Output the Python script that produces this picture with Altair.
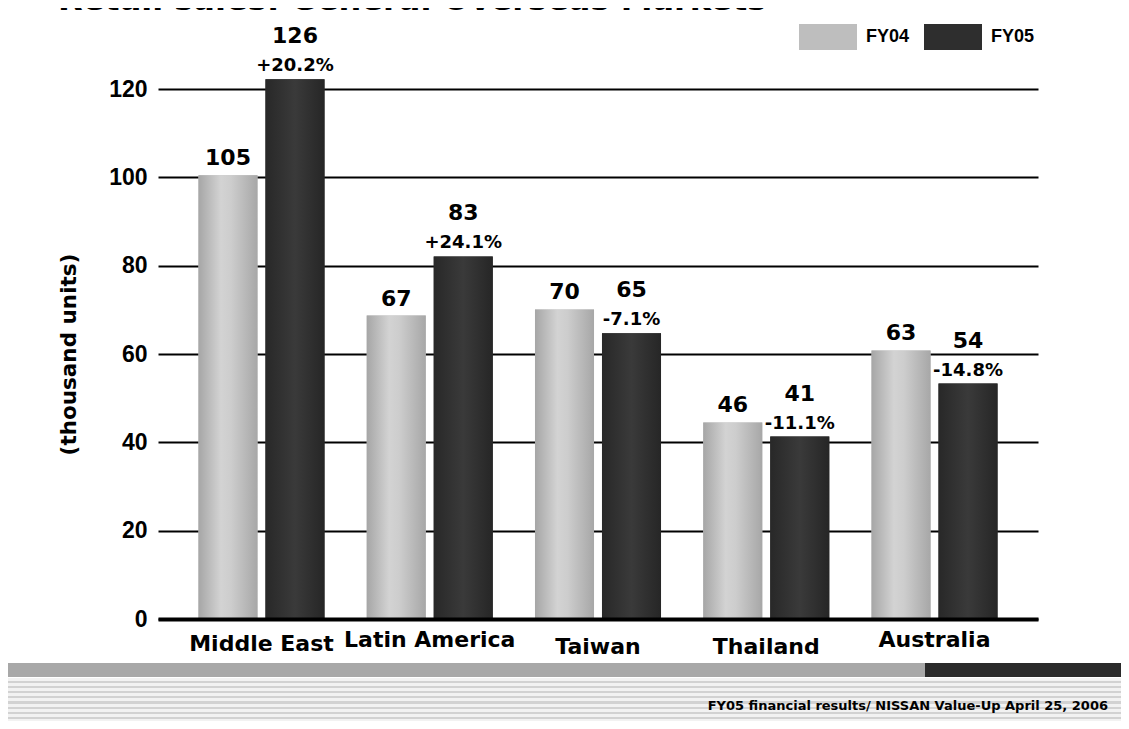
import altair as alt
import pandas as pd

# ---- data ----
regions = ["Middle East", "Latin America", "Taiwan", "Thailand", "Australia"]
series = ["FY04", "FY05"]
fy04_labels = ["105", "67", "70", "46", "63"]
fy05_labels = ["126", "83", "65", "41", "54"]
change_labels = ["+20.2%", "+24.1%", "-7.1%", "-11.1%", "-14.8%"]
# bar heights as drawn in the picture (thousand units)
fy04_heights = [100.5, 68.7, 70.1, 44.5, 60.8]
fy05_heights = [122.2, 82.1, 64.7, 41.3, 53.3]
y_ticks = [0, 20, 40, 60, 80, 100, 120]

title_text = "Retail sales: General Overseas Markets"
y_title = "(thousand units)"
footer_text = "FY05 financial results/ NISSAN Value-Up April 25, 2006"

rows = []
for i, r in enumerate(regions):
    rows.append({"region": r, "series": "FY04", "value": fy04_heights[i],
                 "label": fy04_labels[i], "pct": ""})
    rows.append({"region": r, "series": "FY05", "value": fy05_heights[i],
                 "label": fy05_labels[i], "pct": change_labels[i]})
df = pd.DataFrame(rows)

BOLD = "bold"
VAL_FONT = "DejaVu Sans"

x_enc = alt.X(
    "region:N",
    sort=regions,
    scale=alt.Scale(paddingInner=0.251, paddingOuter=0.2405),
    axis=alt.Axis(
        title=None, labelAngle=0, ticks=False,
        domainColor="black", domainWidth=4,
        labelFont=VAL_FONT, labelFontSize=22, labelFontWeight=BOLD,
        labelColor="black", labelBaseline="alphabetic",
        labelPadding={
            "condition": [
                {"test": "datum.value == 'Australia'", "value": 27},
                {"test": "datum.value == 'Latin America'", "value": 27},
                {"test": "datum.value == 'Taiwan' || datum.value == 'Thailand'", "value": 34},
            ],
            "value": 31,
        },
        zindex=1,
    ),
)
xoff_enc = alt.XOffset(
    "series:N",
    scale=alt.Scale(domain=series, paddingInner=0.119, paddingOuter=0),
)
y_enc = alt.Y(
    "value:Q",
    scale=alt.Scale(domain=[0, 120], nice=False, zero=True),
    axis=alt.Axis(
        values=y_ticks, grid=True, gridColor="black", gridWidth=2,
        ticks=False, domain=False,
        labelFont="Liberation Sans", labelFontSize=23, labelFontWeight=BOLD,
        labelColor="black", labelPadding=11,
        title=y_title, titleFont=VAL_FONT, titleFontSize=21.5,
        titleFontWeight=BOLD, titleColor="black", titlePadding=28,
    ),
)

base = alt.Chart(df)

legend_bars = base.mark_bar().encode(
    x=x_enc, xOffset=xoff_enc, y=y_enc,
    color=alt.Color(
        "series:N",
        scale=alt.Scale(domain=series, range=["#bebebe", "#2e2e2e"]),
        legend=alt.Legend(
            orient="none", legendX=641, legendY=-81, direction="horizontal",
            title=None, symbolType="M-1,-0.448H1V0.448H-1Z", symbolSize=3364,
            symbolStrokeWidth=0, symbolOpacity=1,
            labelFont="Liberation Sans", labelFontSize=18, labelFontWeight=BOLD,
            labelColor="black", labelOffset=9, columnPadding=14, padding=0,
        ),
    ),
)

grad04 = {
    "gradient": "linear", "x1": 0, "x2": 1, "y1": 0, "y2": 0,
    "stops": [
        {"offset": 0, "color": "#a6a6a6"},
        {"offset": 0.38, "color": "#d3d3d3"},
        {"offset": 0.55, "color": "#cdcdcd"},
        {"offset": 1, "color": "#a7a7a7"},
    ],
}
grad05 = {
    "gradient": "linear", "x1": 0, "x2": 1, "y1": 0, "y2": 0,
    "stops": [
        {"offset": 0, "color": "#282828"},
        {"offset": 0.5, "color": "#3a3a3a"},
        {"offset": 1, "color": "#262626"},
    ],
}

bars04 = base.transform_filter(alt.datum.series == "FY04").mark_bar(color=grad04).encode(
    x=x_enc, xOffset=xoff_enc, y=y_enc)
bars05 = base.transform_filter(alt.datum.series == "FY05").mark_bar(color=grad05).encode(
    x=x_enc, xOffset=xoff_enc, y=y_enc)

val04 = base.transform_filter(alt.datum.series == "FY04").mark_text(
    font=VAL_FONT, fontSize=22, fontWeight=BOLD, color="black",
    baseline="alphabetic", dy=-10,
).encode(x=x_enc, xOffset=xoff_enc, y=y_enc, text="label:N")

val05 = base.transform_filter(alt.datum.series == "FY05").mark_text(
    font=VAL_FONT, fontSize=22, fontWeight=BOLD, color="black",
    baseline="alphabetic", dy=-36,
).encode(x=x_enc, xOffset=xoff_enc, y=y_enc, text="label:N")

pct05 = base.transform_filter(alt.datum.series == "FY05").mark_text(
    font=VAL_FONT, fontSize=18, fontWeight=BOLD, color="black",
    baseline="alphabetic", dy=-8,
).encode(x=x_enc, xOffset=xoff_enc, y=y_enc, text="pct:N")

# ---- title (cut off at the top edge, as in the reference) ----
title_df = pd.DataFrame({"t": [title_text]})
title_mark = alt.Chart(title_df).mark_text(
    align="left", baseline="alphabetic", font=VAL_FONT, fontSize=32,
    fontWeight=BOLD, color="black",
).encode(x=alt.value(-100), y=alt.value(-79), text="t:N")

# ---- footer decoration ----
one = pd.DataFrame({"t": [footer_text]})
band_gray = alt.Chart(one).mark_rect(color="#a8a8a8").encode(
    x=alt.value(-158), x2=alt.value(767), y=alt.value(574), y2=alt.value(588))
band_dark = alt.Chart(one).mark_rect(color="#2a2a2a").encode(
    x=alt.value(767), x2=alt.value(971), y=alt.value(574), y2=alt.value(588))

stripe_stops = []
n_periods = 10
for i in range(n_periods):
    a = i / n_periods
    b = (i + 0.6) / n_periods
    c = (i + 1) / n_periods
    stripe_stops += [
        {"offset": a, "color": "#f2f2f2"},
        {"offset": b, "color": "#f2f2f2"},
        {"offset": b, "color": "#d2d2d2"},
        {"offset": c, "color": "#d2d2d2"},
    ]
stripes = alt.Chart(one).mark_rect(color={
    "gradient": "linear", "x1": 0, "x2": 0, "y1": 0, "y2": 1, "stops": stripe_stops,
}).encode(x=alt.value(-158), x2=alt.value(971), y=alt.value(589), y2=alt.value(640))

footer = alt.Chart(one).mark_text(
    align="right", baseline="alphabetic", font=VAL_FONT,
    fontSize=13, fontWeight=BOLD, color="black",
).encode(x=alt.value(950), y=alt.value(621), text="t:N")

chart = alt.layer(
    band_gray, band_dark, stripes, footer, title_mark,
    legend_bars, bars04, bars05, val04, val05, pct05,
).properties(
    width=880, height=530,
    autosize=alt.AutoSizeParams(type="none"),
    padding={"left": 150, "top": 81, "right": 83, "bottom": 102},
    background="white",
).configure_view(stroke=None)

chart.save("out.html", embed_options={"renderer": "svg", "actions": False})
